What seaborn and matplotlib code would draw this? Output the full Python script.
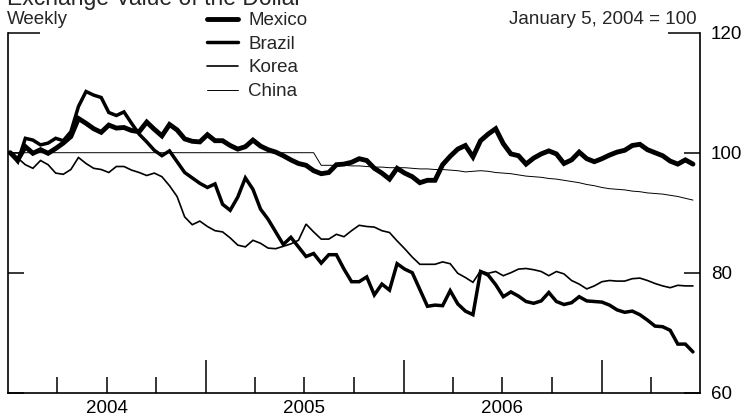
import matplotlib
matplotlib.use("Agg")
import matplotlib.pyplot as plt
import matplotlib.dates as mdates
from matplotlib.ticker import FixedLocator, FuncFormatter, NullFormatter
import pandas as pd
import seaborn as sns

# ---------------- data (index, January 5, 2004 = 100; bi-weekly readings) ----------------
start_date = "2004-01-05"
n_obs = 91
series_names = ["Mexico", "Brazil", "Korea", "China"]

mexico = [100.0, 98.8, 101.0, 99.9, 100.5, 99.9, 100.7, 101.6, 102.7, 105.7,
          104.9, 104.0, 103.4, 104.6, 104.1, 104.2, 103.7, 103.5, 105.1, 103.9,
          102.8, 104.7, 103.8, 102.3, 101.9, 101.8, 103.0, 102.0, 102.0, 101.2,
          100.6, 101.0, 102.1, 101.1, 100.5, 100.1, 99.5, 98.8, 98.2, 97.9,
          97.0, 96.5, 96.7, 98.0, 98.1, 98.4, 99.0, 98.7, 97.4, 96.6,
          95.6, 97.4, 96.6, 96.0, 95.0, 95.4, 95.4, 98.0, 99.4, 100.6,
          101.2, 99.3, 102.0, 103.1, 104.0, 101.5, 99.8, 99.5, 98.1, 99.1,
          99.8, 100.3, 99.8, 98.2, 98.8, 100.1, 99.0, 98.5, 99.0, 99.6,
          100.1, 100.4, 101.2, 101.4, 100.5, 100.0, 99.5, 98.6, 98.1, 98.8,
          98.1]

brazil = [100.0, 98.5, 102.4, 102.1, 101.3, 101.6, 102.4, 102.0, 103.5, 107.7,
          110.2, 109.6, 109.2, 106.7, 106.2, 106.8, 104.9, 103.1, 101.8, 100.4,
          99.5, 100.3, 98.5, 96.7, 95.8, 94.9, 94.2, 94.8, 91.4, 90.4,
          92.6, 95.8, 93.9, 90.6, 88.9, 86.8, 84.7, 85.9, 84.3, 82.7,
          83.2, 81.6, 83.0, 83.0, 80.6, 78.5, 78.5, 79.3, 76.3, 78.1,
          77.1, 81.5, 80.6, 80.0, 77.2, 74.4, 74.6, 74.5, 77.0, 74.8,
          73.6, 73.0, 80.2, 79.6, 78.0, 76.0, 76.8, 76.1, 75.2, 74.9,
          75.3, 76.7, 75.2, 74.7, 75.0, 76.0, 75.3, 75.2, 75.1, 74.6,
          73.8, 73.4, 73.6, 73.0, 72.1, 71.1, 71.0, 70.4, 68.1, 68.1,
          66.8]

korea = [100.0, 99.1, 98.0, 97.4, 98.7, 98.0, 96.6, 96.4, 97.2, 99.2,
         98.2, 97.4, 97.2, 96.7, 97.7, 97.7, 97.1, 96.7, 96.2, 96.6,
         96.0, 94.5, 92.7, 89.3, 88.0, 88.6, 87.7, 87.0, 86.8, 85.8,
         84.6, 84.3, 85.4, 84.9, 84.1, 84.0, 84.4, 84.8, 85.4, 88.1,
         86.8, 85.6, 85.6, 86.4, 86.0, 87.0, 87.9, 87.7, 87.6, 87.0,
         86.7, 85.3, 84.0, 82.6, 81.4, 81.4, 81.4, 81.8, 81.5, 79.9,
         79.2, 78.4, 80.3, 79.9, 80.2, 79.5, 80.0, 80.6, 80.7, 80.5,
         80.2, 79.5, 80.2, 79.8, 78.7, 78.1, 77.3, 77.8, 78.5, 78.7,
         78.6, 78.6, 79.0, 79.1, 78.7, 78.2, 77.8, 77.5, 77.9, 77.8,
         77.8]

china = [100.0, 100.0, 100.0, 100.0, 100.0, 100.0, 100.0, 100.0, 100.0, 100.0,
         100.0, 100.0, 100.0, 100.0, 100.0, 100.0, 100.0, 100.0, 100.0, 100.0,
         100.0, 100.0, 100.0, 100.0, 100.0, 100.0, 100.0, 100.0, 100.0, 100.0,
         100.0, 100.0, 100.0, 100.0, 100.0, 100.0, 100.0, 100.0, 100.0, 100.0,
         100.0, 97.9, 97.9, 97.9, 97.9, 97.8, 97.8, 97.7, 97.6, 97.6,
         97.5, 97.5, 97.5, 97.4, 97.3, 97.3, 97.2, 97.2, 97.1, 97.0,
         96.8, 96.9, 97.0, 96.9, 96.7, 96.6, 96.5, 96.3, 96.1, 96.0,
         95.9, 95.7, 95.6, 95.4, 95.2, 95.0, 94.7, 94.5, 94.2, 94.0,
         93.9, 93.8, 93.6, 93.5, 93.3, 93.2, 93.1, 92.9, 92.7, 92.4,
         92.1]

y_ticks_major = [60, 80, 100]
y_ticks_top = [120]
year_labels = ["2004", "2005", "2006"]

dates = pd.date_range(start_date, periods=n_obs, freq="14D")
frames = []
for name, vals in zip(series_names, [mexico, brazil, korea, china]):
    frames.append(pd.DataFrame({"date": dates, "value": vals, "country": name}))
df = pd.concat(frames, ignore_index=True)

# ---------------- style ----------------
sns.set_style("white")
plt.rcParams["font.family"] = ["Liberation Sans", "DejaVu Sans"]

widths = {"Mexico": 3.5, "Brazil": 2.5, "Korea": 1.2, "China": 0.7}

fig = plt.figure(figsize=(7.46, 4.20), dpi=100)
ax = fig.add_axes([8 / 746, 1 - 392.7 / 420, 692 / 746, 360 / 420])

handles = []
for name in series_names:
    sub = df[df["country"] == name]
    sns.lineplot(data=sub, x="date", y="value", color="black",
                 linewidth=widths[name], ax=ax, legend=False)
    line = ax.lines[-1]
    line.set_solid_joinstyle("miter")
    handles.append(line)

ax.set_xlim(pd.Timestamp("2004-01-01"), pd.Timestamp("2007-07-01"))
ax.set_ylim(60, 120)
ax.set_xlabel("")
ax.set_ylabel("")

# spines
for s in ["left", "right", "bottom"]:
    ax.spines[s].set_visible(True)
    ax.spines[s].set_color("black")
    ax.spines[s].set_linewidth(1.2)
ax.spines["top"].set_visible(False)

# x ticks: long ticks at year starts, short ticks at quarters, year labels mid-year
year_starts = [pd.Timestamp(f"{y}-01-01") for y in (2005, 2006, 2007)]
quarters = [pd.Timestamp(f"{y}-{m:02d}-01") for y in (2004, 2005, 2006, 2007) for m in (4, 7, 10)]
quarters = [q for q in quarters if q < pd.Timestamp("2007-07-01")]
ax.xaxis.set_major_locator(FixedLocator(mdates.date2num(year_starts)))
ax.xaxis.set_minor_locator(FixedLocator(mdates.date2num(quarters)))
ax.xaxis.set_major_formatter(NullFormatter())


def yr_label(x, pos):
    d = mdates.num2date(x)
    s = str(d.year)
    return s if (d.month == 7 and s in year_labels) else ""


ax.xaxis.set_minor_formatter(FuncFormatter(yr_label))
ax.tick_params(axis="x", which="both", direction="in", bottom=True, top=False,
               colors="black", width=1.1)
ax.tick_params(axis="x", which="major", length=23.8)
ax.tick_params(axis="x", which="minor", length=11.5, labelsize=13.5, pad=5)

# y ticks on both sides, labels on the right
ax.yaxis.set_major_locator(FixedLocator(y_ticks_major))
ax.yaxis.set_minor_locator(FixedLocator(y_ticks_top))
ax.yaxis.set_major_formatter(FuncFormatter(lambda v, p: f"{v:.0f}"))
ax.yaxis.set_minor_formatter(FuncFormatter(lambda v, p: f"{v:.0f}"))
ax.tick_params(axis="y", which="both", direction="in", left=True, right=True,
               labelleft=False, labelright=True, labelsize=13.5, pad=8,
               colors="black", width=1.1)
ax.tick_params(axis="y", which="major", length=11.5)
ax.tick_params(axis="y", which="minor", length=23)

# legend
leg = ax.legend(handles, series_names, loc="upper left",
                bbox_to_anchor=(207 / 746, 1 - 12 / 420), bbox_transform=fig.transFigure,
                frameon=False, fontsize=13.5, handlelength=1.65, handletextpad=0.55,
                labelspacing=0.35, borderpad=0, borderaxespad=0)

# texts
fig.text(7 / 746, 1 - 5 / 420, "Exchange Value of the Dollar", fontsize=16.5,
         ha="left", va="baseline")
fig.text(7 / 746, 1 - 24.5 / 420, "Weekly", fontsize=13.5, ha="left", va="baseline")
fig.text(697 / 746, 1 - 24 / 420, "January 5, 2004 = 100", fontsize=13.5,
         ha="right", va="baseline")

fig.savefig("out.png", dpi=100, facecolor="white")
